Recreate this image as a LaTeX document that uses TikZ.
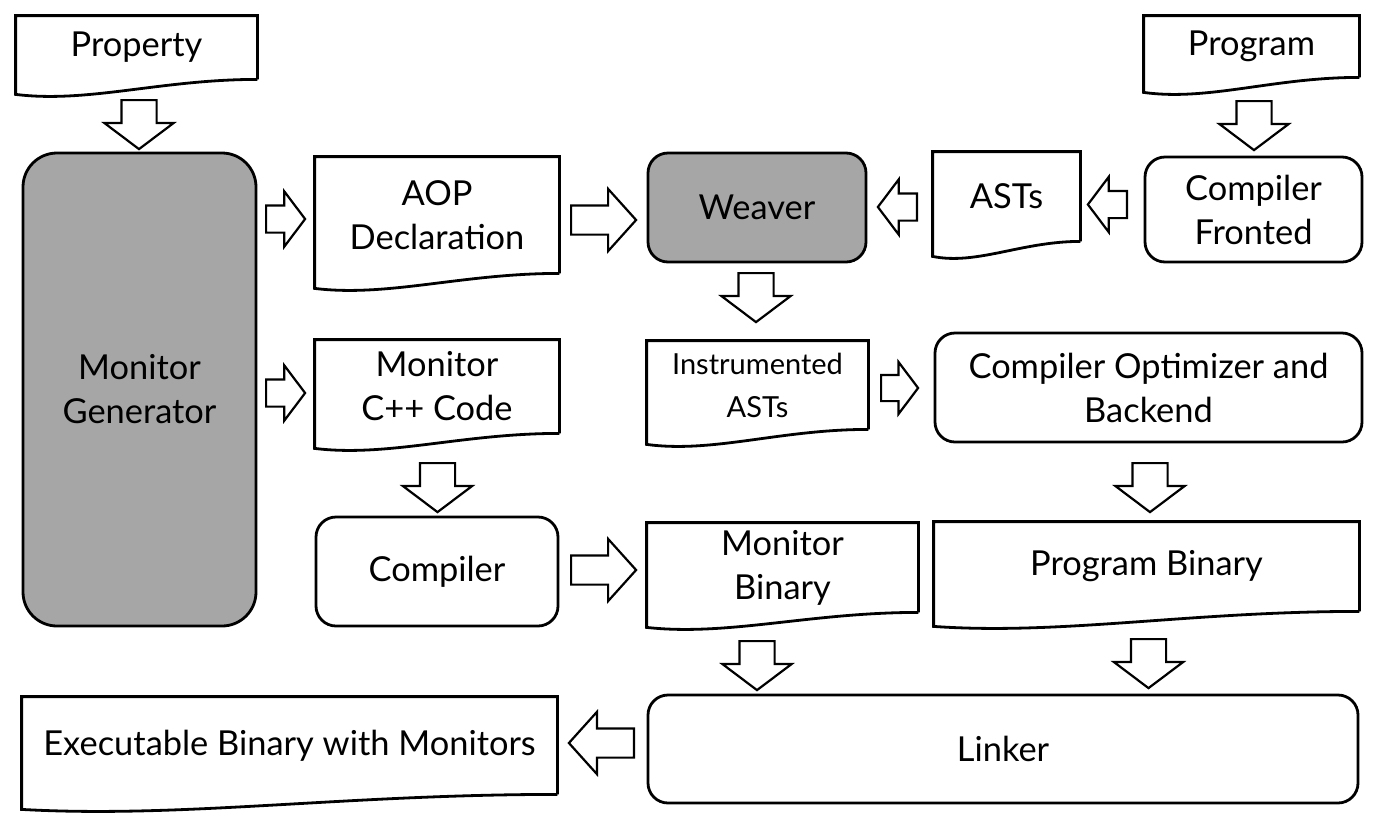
\documentclass[tikz,border=0pt]{standalone}
\usepackage{fontspec}
\setmainfont{Lato}
\usetikzlibrary{shapes.arrows,calc}
\definecolor{blockgray}{HTML}{A6A6A6}

\tikzset{every picture/.style={line width=1.4pt}}
\tikzset{
  txt/.style={font=\fontsize{17.2pt}{22pt}\selectfont,align=center,inner sep=0pt},
  proc/.style={txt,draw,rounded corners=10pt},
  tool/.style={proc,fill=blockgray},
  doc/.style={txt},
  blockarrow/.style={single arrow,draw,fill=white,line width=1.1pt,inner xsep=0pt,anchor=tail},
  downarrow/.style={blockarrow,rotate=-90,inner ysep=8.25pt,
    minimum height=24.5pt,single arrow head extend=8.5pt,single arrow tip angle=106},
  widearrow/.style={blockarrow,inner ysep=6.75pt,
    minimum height=32.5pt,single arrow head extend=8.25pt,single arrow tip angle=96},
  thinarrow/.style={blockarrow,inner ysep=6.25pt,
    minimum height=19.5pt,single arrow head extend=7pt,single arrow tip angle=106}
}

% outline of a document: straight top and sides, wavy bottom
\newcommand{\docframe}[1]{%
  \draw (#1.south east) -- (#1.north east) -- (#1.north west) -- ([yshift=-7.5pt]#1.south west)
    .. controls ($(#1.south west)!0.3!(#1.south east)+(0pt,-12pt)$) and ($(#1.south west)!0.6!(#1.south east)$) .. (#1.south east);}

\begin{document}
\begin{tikzpicture}[x=0.5pt,y=-0.5pt]
\useasboundingbox (0,0) rectangle (1380,820);

% documents
\node[doc,minimum width=119.5pt,minimum height=30.5pt] (prop) at (136.5,47.5) {Property};
\node[doc,minimum width=106.5pt,minimum height=29.5pt] (prog) at (1251.5,46.5) {Program};
\node[doc,minimum width=121pt,minimum height=57pt] (aop) at (437,215) {AOP\\Declaration};
\node[doc,minimum width=72.5pt,minimum height=43.5pt] (asts) at (1006.5,196.5) {ASTs};
\node[doc,minimum width=109.5pt,minimum height=43pt,font=\fontsize{14.5pt}{21.5pt}\selectfont] (instr) at (757.5,385) {Instrumented\\ASTs};
\node[doc,minimum width=121pt,minimum height=45.5pt] (mcode) at (437,386.5) {Monitor\\C++ Code};
\node[doc,minimum width=134.5pt,minimum height=43.5pt] (mbin) at (782.5,567.5) {Monitor\\Binary};
\node[doc,minimum width=211.5pt,minimum height=43.5pt] (pbin) at (1146.5,566.5) {Program Binary};
\node[doc,minimum width=266.5pt,minimum height=47.5pt] (exe) at (289.5,745.5) {Executable Binary with Monitors};
\foreach \d in {prop,prog,aop,asts,instr,mcode,mbin,pbin,exe} {\docframe{\d}}

% processes
\node[tool,rounded corners=17pt,minimum width=116.5pt,minimum height=236.5pt] (mgen) at (139.5,389.5) {Monitor\\Generator};
\node[tool,minimum width=109pt,minimum height=54.5pt] (weaver) at (757,207.5) {Weaver};
\node[proc,minimum width=108.5pt,minimum height=52.5pt] (front) at (1253.5,209.5) {Compiler\\Fronted};
\node[proc,minimum width=213.5pt,minimum height=54.5pt] (opt) at (1148.5,387.5) {Compiler Optimizer and\\Backend};
\node[proc,minimum width=121pt,minimum height=54.5pt] (comp) at (437,571.5) {Compiler};
\node[proc,minimum width=355pt,minimum height=54pt] (link) at (1003,749) {Linker};

% block arrows
\node[downarrow] (propmgen) at (139,99) {};
\node[downarrow] (progfront) at (1254,100) {};
\node[thinarrow,rotate=180] (frontasts) at (1128,204.5) {};
\node[thinarrow,rotate=180] (astsweaver) at (918,207) {};
\node[thinarrow] (mgenaop) at (265,219) {};
\node[widearrow] (aopweaver) at (570,220) {};
\node[downarrow] (weaverinstr) at (756,272) {};
\node[thinarrow] (mgenmcode) at (265,393) {};
\node[thinarrow,minimum height=18.5pt,inner ysep=6pt,single arrow head extend=6.5pt] (instropt) at (880,388) {};
\node[downarrow] (mcodecomp) at (437.5,462) {};
\node[downarrow] (optpbin) at (1150,462) {};
\node[widearrow] (compmbin) at (570,570) {};
\node[downarrow] (mbinlink) at (757,640) {};
\node[downarrow] (pbinlink) at (1148.5,638) {};
\node[widearrow,rotate=180] (linkexe) at (635,743) {};
\end{tikzpicture}
\end{document}
